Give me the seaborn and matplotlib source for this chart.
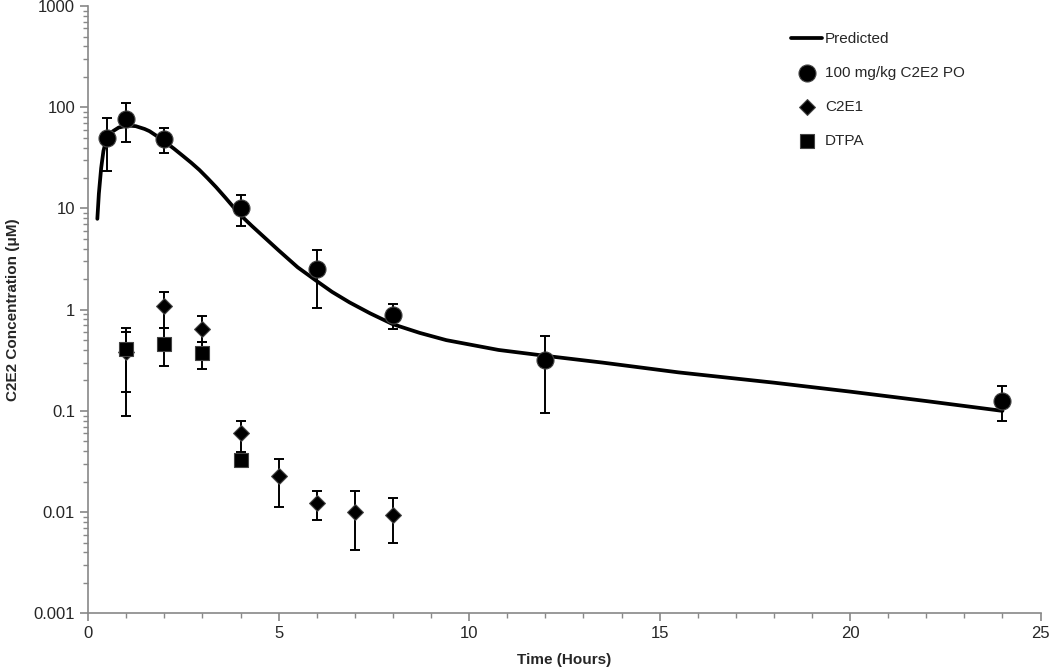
import numpy as np
import pandas as pd
import matplotlib
matplotlib.use("Agg")
import matplotlib.pyplot as plt
import matplotlib.ticker as mticker
import seaborn as sns

# Predicted curve
pred_time = [0.24, 0.28, 0.34, 0.40, 0.47, 0.55, 0.65, 0.8, 1.04, 1.25, 1.48, 1.61, 1.8, 2.0, 2.25,
             2.48, 2.7, 2.92, 3.14, 3.36, 3.6, 3.97, 4.3, 4.67, 5.0, 5.5, 5.98, 6.4, 6.86, 7.4,
             7.99, 8.7, 9.4, 10.77, 12.0, 13.5, 15.5, 18.0, 20.0, 22.0, 24.0]
pred_conc = [7.9, 14, 25, 37, 47, 53, 58, 63, 66, 65, 61, 58, 52, 46, 39,
             33.2, 28.4, 24, 19.8, 16.2, 12.8, 8.8, 6.7, 5.0, 3.85, 2.62, 1.94, 1.5, 1.18, 0.92,
             0.72, 0.59, 0.50, 0.40, 0.35, 0.30, 0.24, 0.19, 0.155, 0.125, 0.10]

# 100 mg/kg C2E2 PO
c2e2_time = [0.5, 1, 2, 4, 6, 8, 12, 24]
c2e2_conc = [50, 77, 49, 10.2, 2.5, 0.88, 0.32, 0.125]
c2e2_low = [23.5, 45, 35, 6.7, 1.03, 0.65, 0.095, 0.08]
c2e2_high = [79, 110, 63, 13.7, 3.9, 1.15, 0.55, 0.175]

# C2E1
c2e1_time = [1, 2, 3, 4, 5, 6, 7, 8]
c2e1_conc = [0.38, 1.08, 0.65, 0.060, 0.0227, 0.0123, 0.0101, 0.0093]
c2e1_low = [0.089, 0.66, 0.475, 0.039, 0.0112, 0.0084, 0.0042, 0.005]
c2e1_high = [0.60, 1.5, 0.86, 0.080, 0.0336, 0.0161, 0.0161, 0.0137]

# DTPA
dtpa_time = [1, 2, 3, 4]
dtpa_conc = [0.41, 0.46, 0.37, 0.033]
dtpa_low = [0.155, 0.28, 0.26, 0.030]
dtpa_high = [0.66, 0.66, 0.475, 0.036]

y_ticks = [0.001, 0.01, 0.1, 1, 10, 100, 1000]
y_labels = ["0.001", "0.01", "0.1", "1", "10", "100", "1000"]
x_ticks = [0, 5, 10, 15, 20, 25]

sns.set_style("white")
plt.rcParams["font.family"] = ["Liberation Sans", "DejaVu Sans"]

fig, ax = plt.subplots(figsize=(10.5, 6.71), dpi=100)
fig.subplots_adjust(left=0.084, right=0.991, top=0.991, bottom=0.086)

pred = pd.DataFrame({"time": pred_time, "conc": pred_conc})
sns.lineplot(data=pred, x="time", y="conc", color="black", linewidth=2.7,
             ax=ax, label="Predicted", zorder=3)

series = [
    ("100 mg/kg C2E2 PO", c2e2_time, c2e2_conc, c2e2_low, c2e2_high, "o", 150),
    ("C2E1", c2e1_time, c2e1_conc, c2e1_low, c2e1_high, "D", 65),
    ("DTPA", dtpa_time, dtpa_conc, dtpa_low, dtpa_high, "s", 110),
]
for name, t, c, lo, hi, mk, size in series:
    c = np.array(c)
    yerr = [c - np.array(lo), np.array(hi) - c]
    ax.errorbar(t, c, yerr=yerr, fmt="none", ecolor="black", elinewidth=1.4,
                capsize=3.5, capthick=1.4, zorder=2)
    df = pd.DataFrame({"time": t, "conc": c})
    sns.scatterplot(data=df, x="time", y="conc", marker=mk, s=size, color="black",
                    edgecolor="#444444", linewidth=0.8, ax=ax, label=name, zorder=4)

ax.set_yscale("log")
ax.set_ylim(0.001, 1000)
ax.set_xlim(0, 25)
ax.set_yticks(y_ticks)
ax.yaxis.set_major_formatter(mticker.FixedFormatter(y_labels))
ax.yaxis.set_minor_locator(mticker.LogLocator(base=10, subs=np.arange(2, 10)))
ax.yaxis.set_minor_formatter(mticker.NullFormatter())
ax.set_xticks(x_ticks)
ax.xaxis.set_minor_locator(mticker.MultipleLocator(1))

for side in ["top", "right"]:
    ax.spines[side].set_visible(False)
for side in ["left", "bottom"]:
    ax.spines[side].set_color("#888888")
    ax.spines[side].set_linewidth(1.2)

ax.tick_params(which="major", direction="out", length=6, width=1.2, color="#888888",
               labelsize=12, left=True, bottom=True)
ax.tick_params(which="minor", direction="out", length=3.5, width=1.0, color="#888888",
               left=True, bottom=True)

ax.set_xlabel("Time (Hours)", fontsize=11, fontweight="bold", labelpad=8)
ax.set_ylabel("C2E2 Concentration (μM)", fontsize=11, fontweight="bold", labelpad=10)

leg = ax.legend(loc="upper right", bbox_to_anchor=(0.935, 0.98), frameon=False,
                fontsize=11, labelspacing=1.3, handlelength=2.0, handletextpad=0.2)

plt.savefig("out.png", dpi=100)
